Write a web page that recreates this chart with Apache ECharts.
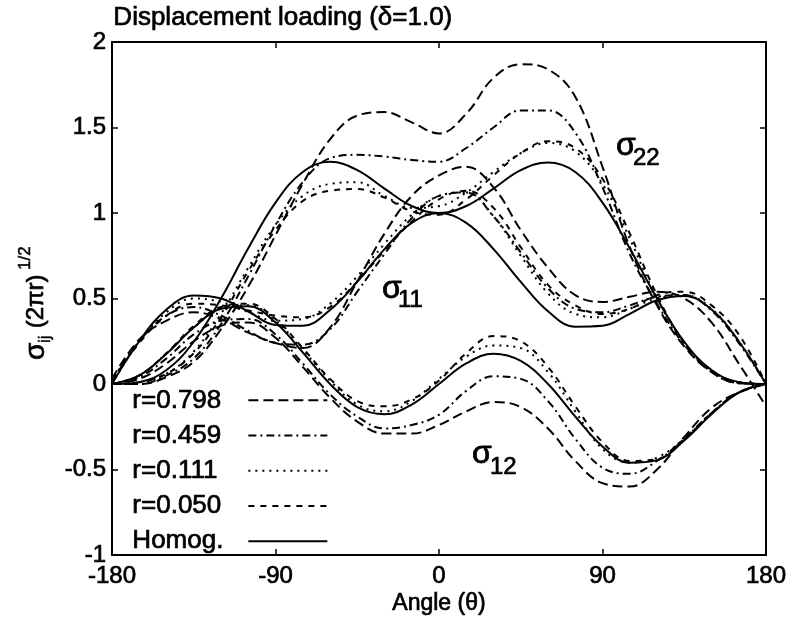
<!DOCTYPE html>
<html><head><meta charset="utf-8">
<script src="https://cdn.jsdelivr.net/npm/echarts@6/dist/echarts.min.js"></script>
<style>html,body{margin:0;padding:0;background:#fff}#c{width:790px;height:624px}</style>
</head><body><div id="c"></div>
<script>
// Angle samples (degrees)
const angles = [-180,-165,-150,-135,-120,-105,-90,-75,-60,-45,-30,-15,0,15,30,45,60,75,90,105,120,135,150,165,180];
const xTicks = [-180,-90,0,90,180];
const yTicks = [-1,-0.5,0,0.5,1,1.5,2];
const legendNames = ['r=0.798','r=0.459','r=0.111','r=0.050','Homog.'];

// Homogeneous
const s11_homog = [0,0.25,0.436,0.518,0.5,0.424,0.345,0.34,0.433,0.597,0.789,0.942,1,0.942,0.789,0.597,0.425,0.335,0.34,0.41,0.49,0.515,0.436,0.25,0];
const s22_homog = [0,0.011,0.082,0.247,0.5,0.794,1.061,1.24,1.299,1.251,1.143,1.041,1,1.041,1.143,1.251,1.295,1.24,1.061,0.794,0.5,0.247,0.082,0.011,0];
const s12_homog = [0,0.05,0.177,0.33,0.44,0.455,0.36,0.185,0,-0.135,-0.177,-0.12,0,0.12,0.177,0.135,0,-0.19,-0.365,-0.46,-0.445,-0.33,-0.177,-0.05,0];

// r = 0.798
const s11_r798 = [0.03,0.26,0.37,0.42,0.38,0.30,0.24,0.21,0.33,0.60,0.88,1.10,1.22,1.27,1.15,0.90,0.68,0.52,0.48,0.51,0.54,0.50,0.36,0.12,-0.13];
const s22_r798 = [0,0.0,0.04,0.13,0.32,0.57,0.87,1.17,1.43,1.57,1.59,1.53,1.465,1.58,1.79,1.87,1.84,1.68,1.27,0.80,0.46,0.22,0.07,0.005,0];
const s12_r798 = [0,0.03,0.12,0.25,0.34,0.36,0.27,0.10,-0.08,-0.22,-0.29,-0.29,-0.24,-0.16,-0.105,-0.135,-0.26,-0.45,-0.58,-0.60,-0.50,-0.31,-0.14,-0.05,0];

// r = 0.459
const s11_r459 = [0.02,0.25,0.40,0.45,0.40,0.31,0.24,0.23,0.32,0.54,0.76,0.97,1.10,1.12,0.98,0.77,0.56,0.44,0.42,0.46,0.51,0.52,0.43,0.24,0];
const s22_r459 = [0,0.0,0.05,0.15,0.35,0.63,0.93,1.18,1.32,1.34,1.33,1.31,1.30,1.38,1.50,1.60,1.60,1.47,1.15,0.76,0.47,0.23,0.07,0.005,0];
const s12_r459 = [0,0.04,0.15,0.29,0.37,0.38,0.29,0.12,-0.06,-0.19,-0.26,-0.24,-0.18,-0.04,0.045,0.03,-0.10,-0.32,-0.49,-0.525,-0.45,-0.32,-0.17,-0.05,0];

// r = 0.111
const s11_r111 = [0,0.25,0.42,0.50,0.48,0.42,0.37,0.38,0.47,0.63,0.82,0.99,1.10,1.12,0.98,0.75,0.53,0.41,0.39,0.44,0.50,0.52,0.44,0.25,0];
const s22_r111 = [0,0.01,0.06,0.19,0.41,0.68,0.93,1.10,1.17,1.18,1.10,1.03,1.04,1.12,1.24,1.35,1.41,1.36,1.17,0.85,0.50,0.24,0.08,0.01,0];
const s12_r111 = [0,0.05,0.18,0.33,0.44,0.46,0.37,0.20,0.02,-0.12,-0.16,-0.10,0.03,0.16,0.225,0.21,0.07,-0.16,-0.38,-0.46,-0.43,-0.32,-0.17,-0.05,0];

// r = 0.050
const s11_r050 = [0.02,0.24,0.40,0.47,0.46,0.43,0.40,0.39,0.45,0.60,0.78,0.95,1.08,1.13,1.03,0.80,0.58,0.46,0.41,0.44,0.52,0.54,0.46,0.29,0];
const s22_r050 = [0,0.01,0.06,0.18,0.39,0.66,0.90,1.07,1.13,1.14,1.09,1.01,0.99,1.08,1.22,1.35,1.42,1.38,1.20,0.88,0.52,0.24,0.08,0.01,0];
const s12_r050 = [0,0.05,0.18,0.34,0.45,0.47,0.38,0.21,0.03,-0.10,-0.13,-0.09,0.02,0.18,0.28,0.25,0.10,-0.13,-0.34,-0.45,-0.44,-0.32,-0.17,-0.05,0];

const FONT = '"Liberation Sans", Arial, Helvetica, sans-serif';
const TB = {textBorderColor: '#000', textBorderWidth: 0.7};
const groups = [
  {name: legendNames[0], dash: [10, 5], sets: [s11_r798, s22_r798, s12_r798]},
  {name: legendNames[1], dash: [8, 4, 2, 4], sets: [s11_r459, s22_r459, s12_r459]},
  {name: legendNames[2], dash: [2, 5], sets: [s11_r111, s22_r111, s12_r111]},
  {name: legendNames[3], dash: [6, 6], sets: [s11_r050, s22_r050, s12_r050]},
  {name: legendNames[4], dash: 'solid', sets: [s11_homog, s22_homog, s12_homog]}
];
const series = [];
groups.forEach(g => g.sets.forEach(arr => series.push({
  type: 'line', name: g.name, xAxisIndex: 0, yAxisIndex: 0,
  data: angles.map((a, i) => [a, arr[i]]),
  showSymbol: false, symbol: 'none', smooth: 0.4, silent: true,
  itemStyle: {color: '#000'},
  lineStyle: {color: '#000', width: 2, type: g.dash}
})));

const axisCommon = {
  axisLine: {onZero: false, lineStyle: {color: '#000', width: 2}},
  axisTick: {inside: true, length: 6, lineStyle: {color: '#000', width: 1.5}},
  splitLine: {show: false}
};
const lab = Object.assign({fontSize: 24, color: '#000', fontFamily: FONT}, TB);
const chart = echarts.init(document.getElementById('c'));
chart.setOption({
  animation: false,
  backgroundColor: '#fff',
  grid: {left: 112, top: 42, width: 654, height: 513},
  xAxis: [
    Object.assign({type: 'value', position: 'bottom', min: xTicks[0], max: xTicks[xTicks.length-1], interval: 90,
      axisLabel: Object.assign({margin: 9}, lab)}, axisCommon),
    Object.assign({type: 'value', position: 'top', min: xTicks[0], max: xTicks[xTicks.length-1], interval: 90,
      axisLabel: {show: false}}, axisCommon)
  ],
  yAxis: [
    Object.assign({type: 'value', position: 'left', min: yTicks[0], max: yTicks[yTicks.length-1], interval: 0.5,
      axisLabel: Object.assign({margin: 6}, lab)}, axisCommon),
    Object.assign({type: 'value', position: 'right', min: yTicks[0], max: yTicks[yTicks.length-1], interval: 0.5,
      axisLabel: {show: false}}, axisCommon)
  ],
  legend: {
    data: legendNames, orient: 'vertical', left: 127, top: 382, align: 'right',
    itemWidth: 79, itemHeight: 14, itemGap: 8.5, selectedMode: false,
    itemStyle: {opacity: 0},
    formatter: '{a|{name}}',
    textStyle: {color: '#000', rich: {a: Object.assign({width: 111, align: 'left', fontSize: 26, lineHeight: 26, fontFamily: FONT, color: '#000'}, TB)}}
  },
  graphic: [
    {type: 'text', left: 113, top: 4, style: Object.assign({text: 'Displacement loading (\u03b4=1.0)', fontSize: 26, fontFamily: FONT, fill: '#000', stroke: '#000', lineWidth: 0.7})},
    {type: 'text', x: 439, y: 604, style: {text: 'Angle (\u03b8)', fontSize: 23, fontFamily: FONT, fill: '#000', stroke: '#000', lineWidth: 0.7, textAlign: 'center', textVerticalAlign: 'middle'}},
    {type: 'group', x: 36, y: 298, rotation: Math.PI / 2, children: [
      {type: 'text', x: -62, y: 0, style: {text: '\u03c3', fontSize: 28, fontFamily: FONT, fill: '#000', stroke: '#000', lineWidth: 0.7, textVerticalAlign: 'middle'}},
      {type: 'text', x: -45, y: 9, style: {text: 'ij', fontSize: 17, fontFamily: FONT, fill: '#000', stroke: '#000', lineWidth: 0.5, textVerticalAlign: 'middle'}},
      {type: 'text', x: -37, y: 0, style: {text: ' (2\u03c0r)', fontSize: 24, fontFamily: FONT, fill: '#000', stroke: '#000', lineWidth: 0.7, textVerticalAlign: 'middle'}},
      {type: 'text', x: 28, y: -11, style: {text: '1/2', fontSize: 17, fontFamily: FONT, fill: '#000', stroke: '#000', lineWidth: 0.5, textVerticalAlign: 'middle'}}
    ]},
    {type: 'text', x: 616, y: 146, style: {text: '\u03c3', fontSize: 32, fontFamily: FONT, fill: '#000', stroke: '#000', lineWidth: 0.8, textVerticalAlign: 'middle'}},
    {type: 'text', x: 633, y: 158, style: {text: '22', fontSize: 24, fontFamily: FONT, fill: '#000', stroke: '#000', lineWidth: 0.7, textVerticalAlign: 'middle'}},
    {type: 'text', x: 382, y: 289, style: {text: '\u03c3', fontSize: 32, fontFamily: FONT, fill: '#000', stroke: '#000', lineWidth: 0.8, textVerticalAlign: 'middle'}},
    {type: 'text', x: 398, y: 300, style: {text: '11', fontSize: 24, fontFamily: FONT, fill: '#000', stroke: '#000', lineWidth: 0.7, textVerticalAlign: 'middle'}},
    {type: 'text', x: 472, y: 454, style: {text: '\u03c3', fontSize: 32, fontFamily: FONT, fill: '#000', stroke: '#000', lineWidth: 0.8, textVerticalAlign: 'middle'}},
    {type: 'text', x: 490, y: 467, style: {text: '12', fontSize: 24, fontFamily: FONT, fill: '#000', stroke: '#000', lineWidth: 0.7, textVerticalAlign: 'middle'}}
  ],
  series: series
});
</script></body></html>
